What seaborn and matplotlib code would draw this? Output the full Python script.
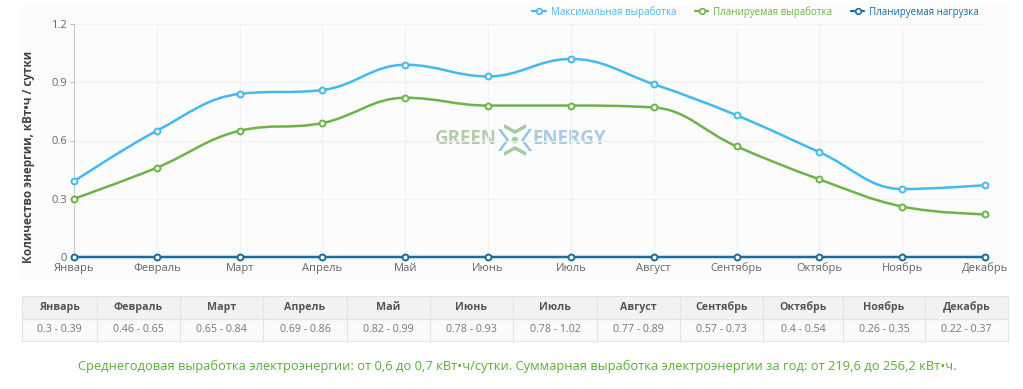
import numpy as np
import pandas as pd
import matplotlib
matplotlib.use('Agg')
import matplotlib.pyplot as plt
import seaborn as sns
from matplotlib.path import Path
from matplotlib.patches import PathPatch, Rectangle, Polygon, Circle
from matplotlib.lines import Line2D

# данные
months = ['Январь', 'Февраль', 'Март', 'Апрель', 'Май', 'Июнь',
          'Июль', 'Август', 'Сентябрь', 'Октябрь', 'Ноябрь', 'Декабрь']
max_output = [0.39, 0.65, 0.84, 0.86, 0.99, 0.93, 1.02, 0.89, 0.73, 0.54, 0.35, 0.37]
plan_output = [0.3, 0.46, 0.65, 0.69, 0.82, 0.78, 0.78, 0.77, 0.57, 0.4, 0.26, 0.22]
plan_load = [0, 0, 0, 0, 0, 0, 0, 0, 0, 0, 0, 0]
series_names = ['Максимальная выработка', 'Планируемая выработка', 'Планируемая нагрузка']
y_ticks = [0, 0.3, 0.6, 0.9, 1.2]
summary = ('Среднегодовая выработка электроэнергии: от 0,6 до 0,7 кВт•ч/сутки. '
           'Суммарная выработка электроэнергии за год: от 219,6 до 256,2 кВт•ч.')

C_MAX = '#43b9f2'
C_PLAN = '#6cb446'
C_LOAD = '#1d6b9e'

sns.set_theme(style='white')
plt.rcParams['font.family'] = ['Open Sans', 'DejaVu Sans']

W, H = 1023, 389
fig = plt.figure(figsize=(W / 100, H / 100), dpi=100)
fig.patch.set_facecolor('white')


def spline_path(xs, ys, smoothing=1.5):
    '''сглаженная линия как в highcharts spline'''
    n = len(xs)
    lc = [None] * n
    rc = [None] * n
    d = smoothing + 1
    for i in range(1, n - 1):
        lx, ly = xs[i - 1], ys[i - 1]
        px, py = xs[i], ys[i]
        nx, ny = xs[i + 1], ys[i + 1]
        lcx = (smoothing * px + lx) / d
        lcy = (smoothing * py + ly) / d
        rcx = (smoothing * px + nx) / d
        rcy = (smoothing * py + ny) / d
        corr = ((rcy - lcy) * (rcx - px)) / (rcx - lcx) + py - rcy
        lcy += corr
        rcy += corr
        if lcy > max(ly, py):
            lcy = max(ly, py); rcy = 2 * py - lcy
        elif lcy < min(ly, py):
            lcy = min(ly, py); rcy = 2 * py - lcy
        if rcy > max(py, ny):
            rcy = max(py, ny); lcy = 2 * py - rcy
        elif rcy < min(py, ny):
            rcy = min(py, ny); lcy = 2 * py - rcy
        lc[i] = (lcx, lcy)
        rc[i] = (rcx, rcy)
    verts = [(xs[0], ys[0])]
    codes = [Path.MOVETO]
    for i in range(1, n):
        c1 = rc[i - 1] or (xs[i - 1], ys[i - 1])
        c2 = lc[i] or (xs[i], ys[i])
        verts += [c1, c2, (xs[i], ys[i])]
        codes += [Path.CURVE4] * 3
    return Path(verts, codes)


# фон, таблица, подпись (в пикселях)
bg = fig.add_axes([0, 0, 1, 1], zorder=0)
bg.set_xlim(0, W)
bg.set_ylim(H, 0)
bg.axis('off')
bg.add_patch(Rectangle((22, 3), 986, 278, facecolor='#fcfcfc', edgecolor='none'))

col_edges = [22, 97, 180, 263, 347, 430, 513, 597, 680, 763, 843, 925, 1008]
top, mid, bot = 296, 319, 341
bg.add_patch(Rectangle((22, top), 986, mid - top, facecolor='#f2f2f2', edgecolor='none'))
bg.add_patch(Rectangle((22, mid), 986, bot - mid, facecolor='#fafafa', edgecolor='none'))
for yy in [top, mid, bot]:
    bg.plot([22, 1008], [yy, yy], color='#e4e4e4', lw=0.8)
for xx in col_edges:
    bg.plot([xx, xx], [top, bot], color='#e4e4e4', lw=0.8)
for i, m in enumerate(months):
    cx = (col_edges[i] + col_edges[i + 1]) / 2
    bg.text(cx, (top + mid) / 2, m, ha='center', va='center', fontsize=7.7,
            fontweight='bold', color='#555555')
    bg.text(cx, (mid + bot) / 2, f'{plan_output[i]} - {max_output[i]}', ha='center',
            va='center', fontsize=7.7, color='#777777')

bg.text(517, 366, summary, ha='center', va='center', fontsize=9.3, color='#5dad38')

# логотип-водяной знак
bg.text(497, 139, 'GREEN', ha='right', va='center', fontsize=13.5, fontweight='bold',
        color='#b3cdab')
bg.text(532, 139, 'ENERGY', ha='left', va='center', fontsize=13.5, fontweight='bold',
        color='#a9cbe0')
cx0, cy0 = 515, 140
bg.add_patch(Polygon([(cx0 - 11, 124), (cx0, 130), (cx0 + 11, 124), (cx0 + 11, 128),
                      (cx0, 134), (cx0 - 11, 128)], facecolor='#a8cd9c', edgecolor='none'))
bg.add_patch(Polygon([(cx0 - 11, 156), (cx0, 150), (cx0 + 11, 156), (cx0 + 11, 152),
                      (cx0, 146), (cx0 - 11, 152)], facecolor='#a8cd9c', edgecolor='none'))
bg.add_patch(Polygon([(cx0 - 14, 129), (cx0 - 6, 140), (cx0 - 14, 151), (cx0 - 17, 151),
                      (cx0 - 9, 140), (cx0 - 17, 129)], facecolor='#8fc4e6', edgecolor='none'))
bg.add_patch(Polygon([(cx0 + 14, 129), (cx0 + 6, 140), (cx0 + 14, 151), (cx0 + 17, 151),
                      (cx0 + 9, 140), (cx0 + 17, 129)], facecolor='#8fc4e6', edgecolor='none'))
bg.add_patch(Circle((cx0, cy0), 3.2, facecolor='#a8cd9c', edgecolor='none'))

# основной график
ax = fig.add_axes([74 / W, 132 / H, 911 / W, 233 / H], zorder=1)
ax.set_facecolor('none')
x = np.arange(len(months))
df = pd.DataFrame({'x': x, 'month': months, 'max': max_output,
                   'plan': plan_output, 'load': plan_load})

for col, color in [('max', C_MAX), ('plan', C_PLAN), ('load', C_LOAD)]:
    path = spline_path(df['x'].tolist(), df[col].tolist())
    ax.add_patch(PathPatch(path, facecolor='none', edgecolor=color, lw=1.8,
                           clip_on=False, zorder=3))
    sns.scatterplot(data=df, x='x', y=col, ax=ax, marker='o', s=18, color='white',
                    edgecolor=color, linewidth=1.4, zorder=4, clip_on=False, legend=False)

ax.set_xlim(0, 11)
ax.set_ylim(0, 1.2)
ax.set_xticks(x)
ax.set_xticklabels(months)
ax.set_yticks(y_ticks)
ax.set_yticklabels(['0', '0.3', '0.6', '0.9', '1.2'])
ax.set_xlabel('')
ax.set_ylabel('Количество энергии, кВт•ч / сутки', fontsize=8.5, fontweight='bold',
              color='#444444')
ax.yaxis.set_label_coords(-39 / 911, 0.43)
ax.tick_params(axis='x', length=0, labelsize=8, colors='#666666', pad=4)
ax.tick_params(axis='y', length=3, width=0.8, color='#c0c0c0', labelsize=8,
               labelcolor='#666666', pad=2, left=True)
ax.grid(True, color='#f1f1f1', lw=0.8)
for s in ['top', 'right', 'bottom']:
    ax.spines[s].set_visible(False)
ax.spines['left'].set_color('#cccccc')
ax.spines['left'].set_linewidth(0.8)

# легенда
handles = [Line2D([], [], color=c, lw=1.6, marker='o', markersize=4, markerfacecolor='white',
                  markeredgewidth=1.2) for c in [C_MAX, C_PLAN, C_LOAD]]
leg = fig.legend(handles, series_names, loc='upper right', bbox_to_anchor=(985 / W, 1.0),
                 ncol=3, frameon=False, fontsize=7, handlelength=1.4, handletextpad=0.5,
                 columnspacing=1.9, borderaxespad=0.2)
for t, c in zip(leg.get_texts(), [C_MAX, C_PLAN, C_LOAD]):
    t.set_color(c)

fig.savefig('out.png', dpi=100)
